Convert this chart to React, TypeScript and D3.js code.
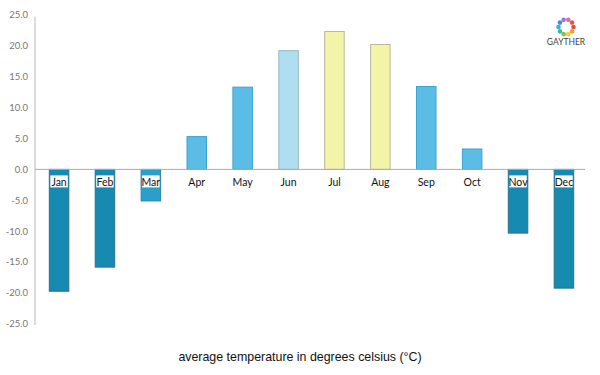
import React from "react";
import * as d3 from "d3";

const months = ["Jan", "Feb", "Mar", "Apr", "May", "Jun", "Jul", "Aug", "Sep", "Oct", "Nov", "Dec"];
const temps = [-19.7, -15.8, -5.1, 5.3, 13.3, 19.2, 22.3, 20.2, 13.4, 3.3, -10.3, -19.2];
const barColors = ["#168ab0", "#168ab0", "#2a9fc9", "#5bbde6", "#5bbde6", "#aedef0", "#f2f4a8", "#f2f4a8", "#5bbde6", "#5bbde6", "#168ab0", "#168ab0"];
const strokeColors = ["#2a7090", "#2a7090", "#2a85aa", "#3aa3cf", "#3aa3cf", "#9ab8c4", "#b8b8a0", "#b8b8a0", "#3aa3cf", "#3aa3cf", "#2a7090", "#2a7090"];
const yTicks = [25, 20, 15, 10, 5, 0, -5, -10, -15, -20, -25];
const title = "average temperature in degrees celsius (°C)";
const logoColors = ["#e94e3c", "#f39c34", "#f4d03f", "#8cc152", "#37bc9b", "#3bafda", "#4a89dc", "#967adc", "#d770ad", "#e9573f"];

export default function App() {
  const W = 600, H = 375;
  const y = d3.scaleLinear().domain([-25, 25]).range([324, 14.8]);
  const x = d3.scaleBand<string>().domain(months).range([36, 587]).paddingInner(0.575).paddingOuter(0.29);
  const axisX = 35;
  const font = "'Lato', 'DejaVu Sans', sans-serif";
  return (
    <svg width={W} height={H} style={{ position: "absolute", left: 0, top: 0, background: "#fff" }}>
      <line x1={axisX} x2={axisX} y1={y(25) + 2} y2={y(-25) + 1} stroke="#d0d0d0" strokeWidth={1.5} />
      {yTicks.map((t) => (
        <text key={t} x={28} y={y(t)} dy="0.35em" textAnchor="end" fontSize={9.5} fill="#777" fontFamily={font}>
          {t.toFixed(1)}
        </text>
      ))}
      {temps.map((v, i) => {
        const bx = x(months[i])!;
        const top = y(Math.max(0, v));
        const bot = y(Math.min(0, v));
        return (
          <rect key={months[i]} x={bx} y={top} width={x.bandwidth()} height={bot - top}
            fill={barColors[i]} stroke={strokeColors[i]} strokeWidth={1} />
        );
      })}
      <line x1={axisX} x2={585} y1={y(0)} y2={y(0)} stroke="#aaa" strokeWidth={1} />
      {temps.map((v, i) => {
        const cx = x(months[i])! + x.bandwidth() / 2;
        const neg = v < 0;
        return (
          <g key={"l" + i}>
            {neg && (
              <rect x={x(months[i])! + 1} y={y(0) + 6} width={x.bandwidth() - 2} height={12} fill="#fff" />
            )}
            <text x={cx} y={y(0) + 12.5} dy="0.35em" textAnchor="middle" fontSize={10.5} fill="#111" fontFamily={font}>
              {months[i]}
            </text>
          </g>
        );
      })}
      <g transform="translate(566,27)">
        {logoColors.map((c, i) => {
          const a = (i / logoColors.length) * Math.PI * 2;
          return <circle key={i} cx={Math.cos(a) * 7.5} cy={Math.sin(a) * 7.5} r={2.3} fill={c} />;
        })}
        <text x={0} y={18} textAnchor="middle" fontSize={8.5} fill="#444" fontFamily={font}>GAYTHER</text>
      </g>
      <text x={300} y={357} dy="0.35em" textAnchor="middle" fontSize={12.4} fill="#111" fontFamily="'Liberation Sans', Arial, sans-serif">
        {title}
      </text>
    </svg>
  );
}
